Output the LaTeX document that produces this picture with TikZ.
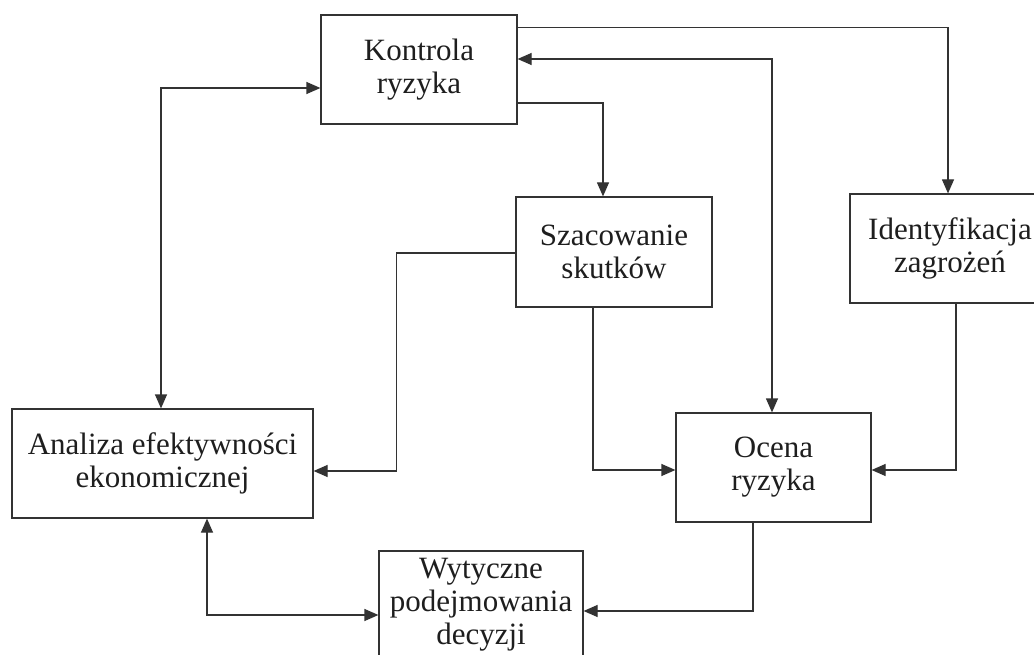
\documentclass[tikz,border=0pt]{standalone}
\usepackage{fontspec}
\setmainfont{Liberation Serif}
\usetikzlibrary{arrows.meta}
\definecolor{ink}{HTML}{1E1E1E}
\definecolor{wire}{HTML}{333333}
\begin{document}
\begin{tikzpicture}[x=1pt,y=-1pt,
  tip/.style={Triangle[length=14pt,width=12pt]},
  box/.style={draw=wire,line width=1.2pt,rectangle,inner sep=0pt,align=center,
    text=ink,font=\fontsize{31}{33}\selectfont},
  conn/.style={draw=wire,line width=1.2pt,-{Triangle[length=14pt,width=12pt]}},
  conn2/.style={draw=wire,line width=1.2pt,{Triangle[length=14pt,width=12pt]}-{Triangle[length=14pt,width=12pt]}}]
\useasboundingbox (0,0) rectangle (1034,655);
\clip (0,0) rectangle (1034,655);

% process boxes
\node[box,minimum width=196pt,minimum height=109pt] (kon) at (419,69.5) {Kontrola\\ryzyka};
\node[box,minimum width=196pt,minimum height=110pt] (sza) at (614,252) {Szacowanie\\skutków};
\node[box,minimum width=200pt,minimum height=109pt] (ide) at (950,248.5) {Identyfikacja\\zagrożeń};
\node[box,minimum width=301pt,minimum height=109pt] (ana) at (162.5,463.5) {Analiza efektywności\\ekonomicznej};
\node[box,minimum width=195pt,minimum height=109pt] (oce) at (773.5,467.5) {Ocena\\ryzyka};
\node[box,minimum width=204pt,minimum height=108pt] (wyt) at (481,605) {Wytyczne\\podejmowania\\decyzji};

% connectors
\draw[conn] ([yshift=-13pt]kon.north east) -| ([xshift=-2pt]ide.north);
\draw[conn2] ([yshift=10.5pt]kon.east) -| ([xshift=-1.5pt]oce.north);
\draw[conn] ([yshift=-33.5pt]kon.east) -| ([xshift=-11pt]sza.north);
\draw[conn2] ([xshift=-1.5pt]ana.north) |- ([yshift=-18.5pt]kon.west);
\draw[conn] ([yshift=-1pt]sza.west) -- ++(-119,0) |- ([yshift=-7.5pt]ana.east);
\draw[conn] ([xshift=-21pt]sza.south) |- ([yshift=-2.5pt]oce.west);
\draw[conn] ([xshift=6pt]ide.south) |- ([yshift=-2.5pt]oce.east);
\draw[conn2] ([xshift=44.5pt]ana.south) |- ([yshift=-10pt]wyt.west);
\draw[conn] ([xshift=-20.5pt]oce.south) |- ([yshift=-6pt]wyt.east);
\end{tikzpicture}
\end{document}
